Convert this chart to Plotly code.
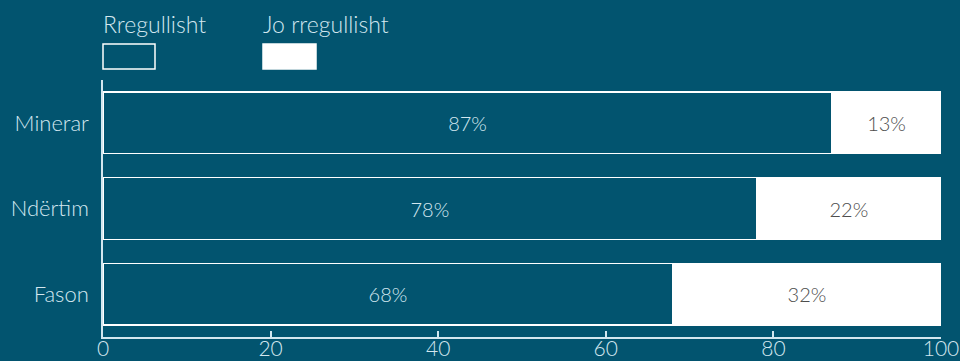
import plotly.graph_objects as go

categories = ["Minerar", "Ndërtim", "Fason"]
regular = [87, 78, 68]
irregular = [13, 22, 32]
series_names = ["Rregullisht", "Jo rregullisht"]
x_ticks = [0, 20, 40, 60, 80, 100]

BG = "#02546f"
LIGHT = "#d3e7ef"
FONT = "Lato"
FW = 300

W, H = 960, 361
L, R, T, B = 103, 19, 80, 24
pw, ph = W - L - R, H - T - B

def px(x):
    return (x - L) / pw

def py(y):
    return (H - B - y) / ph

fig = go.Figure()
fig.add_trace(go.Bar(
    y=categories, x=regular, orientation="h", name=series_names[0],
    marker=dict(color=BG, line=dict(color="white", width=1.5)),
    text=[f"{v}%" for v in regular], textposition="inside", insidetextanchor="middle",
    textfont=dict(color=LIGHT, size=20, family=FONT, weight=FW), width=0.72,
))
fig.add_trace(go.Bar(
    y=categories, x=irregular, orientation="h", name=series_names[1],
    marker=dict(color="white", line=dict(color="white", width=1.5)),
    text=[f"{v}%" for v in irregular], textposition="inside", insidetextanchor="middle",
    textfont=dict(color="#4d4d4d", size=20, family=FONT, weight=FW), width=0.72,
))

fig.update_layout(
    barmode="stack", width=W, height=H,
    margin=dict(l=L, r=R, t=T, b=B, pad=0, autoexpand=False),
    paper_bgcolor=BG, plot_bgcolor=BG,
    showlegend=False,
    font=dict(family=FONT, color=LIGHT, size=22, weight=FW),
    xaxis=dict(range=[0, 100], tickvals=x_ticks, ticks="inside", ticklen=6, tickwidth=2,
               tickcolor=LIGHT, showline=True, linecolor=LIGHT, linewidth=1.5,
               showgrid=False, zeroline=False, automargin=False, ticklabeloverflow="allow",
               ticklabelstandoff=-8,
               tickfont=dict(size=21, color=LIGHT, family=FONT, weight=FW)),
    yaxis=dict(autorange="reversed", showline=True, linecolor=LIGHT, linewidth=1.5,
               showgrid=False, zeroline=False, ticks="", ticklabelstandoff=8, automargin=False,
               tickfont=dict(size=22, color=LIGHT, family=FONT, weight=FW)),
)

# legend drawn above plot
fig.add_shape(type="rect", xref="paper", yref="paper", x0=px(103), x1=px(155), y0=py(69), y1=py(44),
              line=dict(color="white", width=1.5), fillcolor=BG)
fig.add_shape(type="rect", xref="paper", yref="paper", x0=px(263), x1=px(316), y0=py(69), y1=py(44),
              line=dict(color="white", width=1.5), fillcolor="white")
for name, xp in zip(series_names, [101, 261]):
    fig.add_annotation(text=name, xref="paper", yref="paper", x=px(xp), y=py(24),
                       xanchor="left", yanchor="middle", showarrow=False,
                       font=dict(size=23, color=LIGHT, family=FONT, weight=FW))

fig.write_html("out.html", config={"displayModeBar": False},
               post_script="document.body.style.margin='0';document.body.style.overflow='hidden';")
